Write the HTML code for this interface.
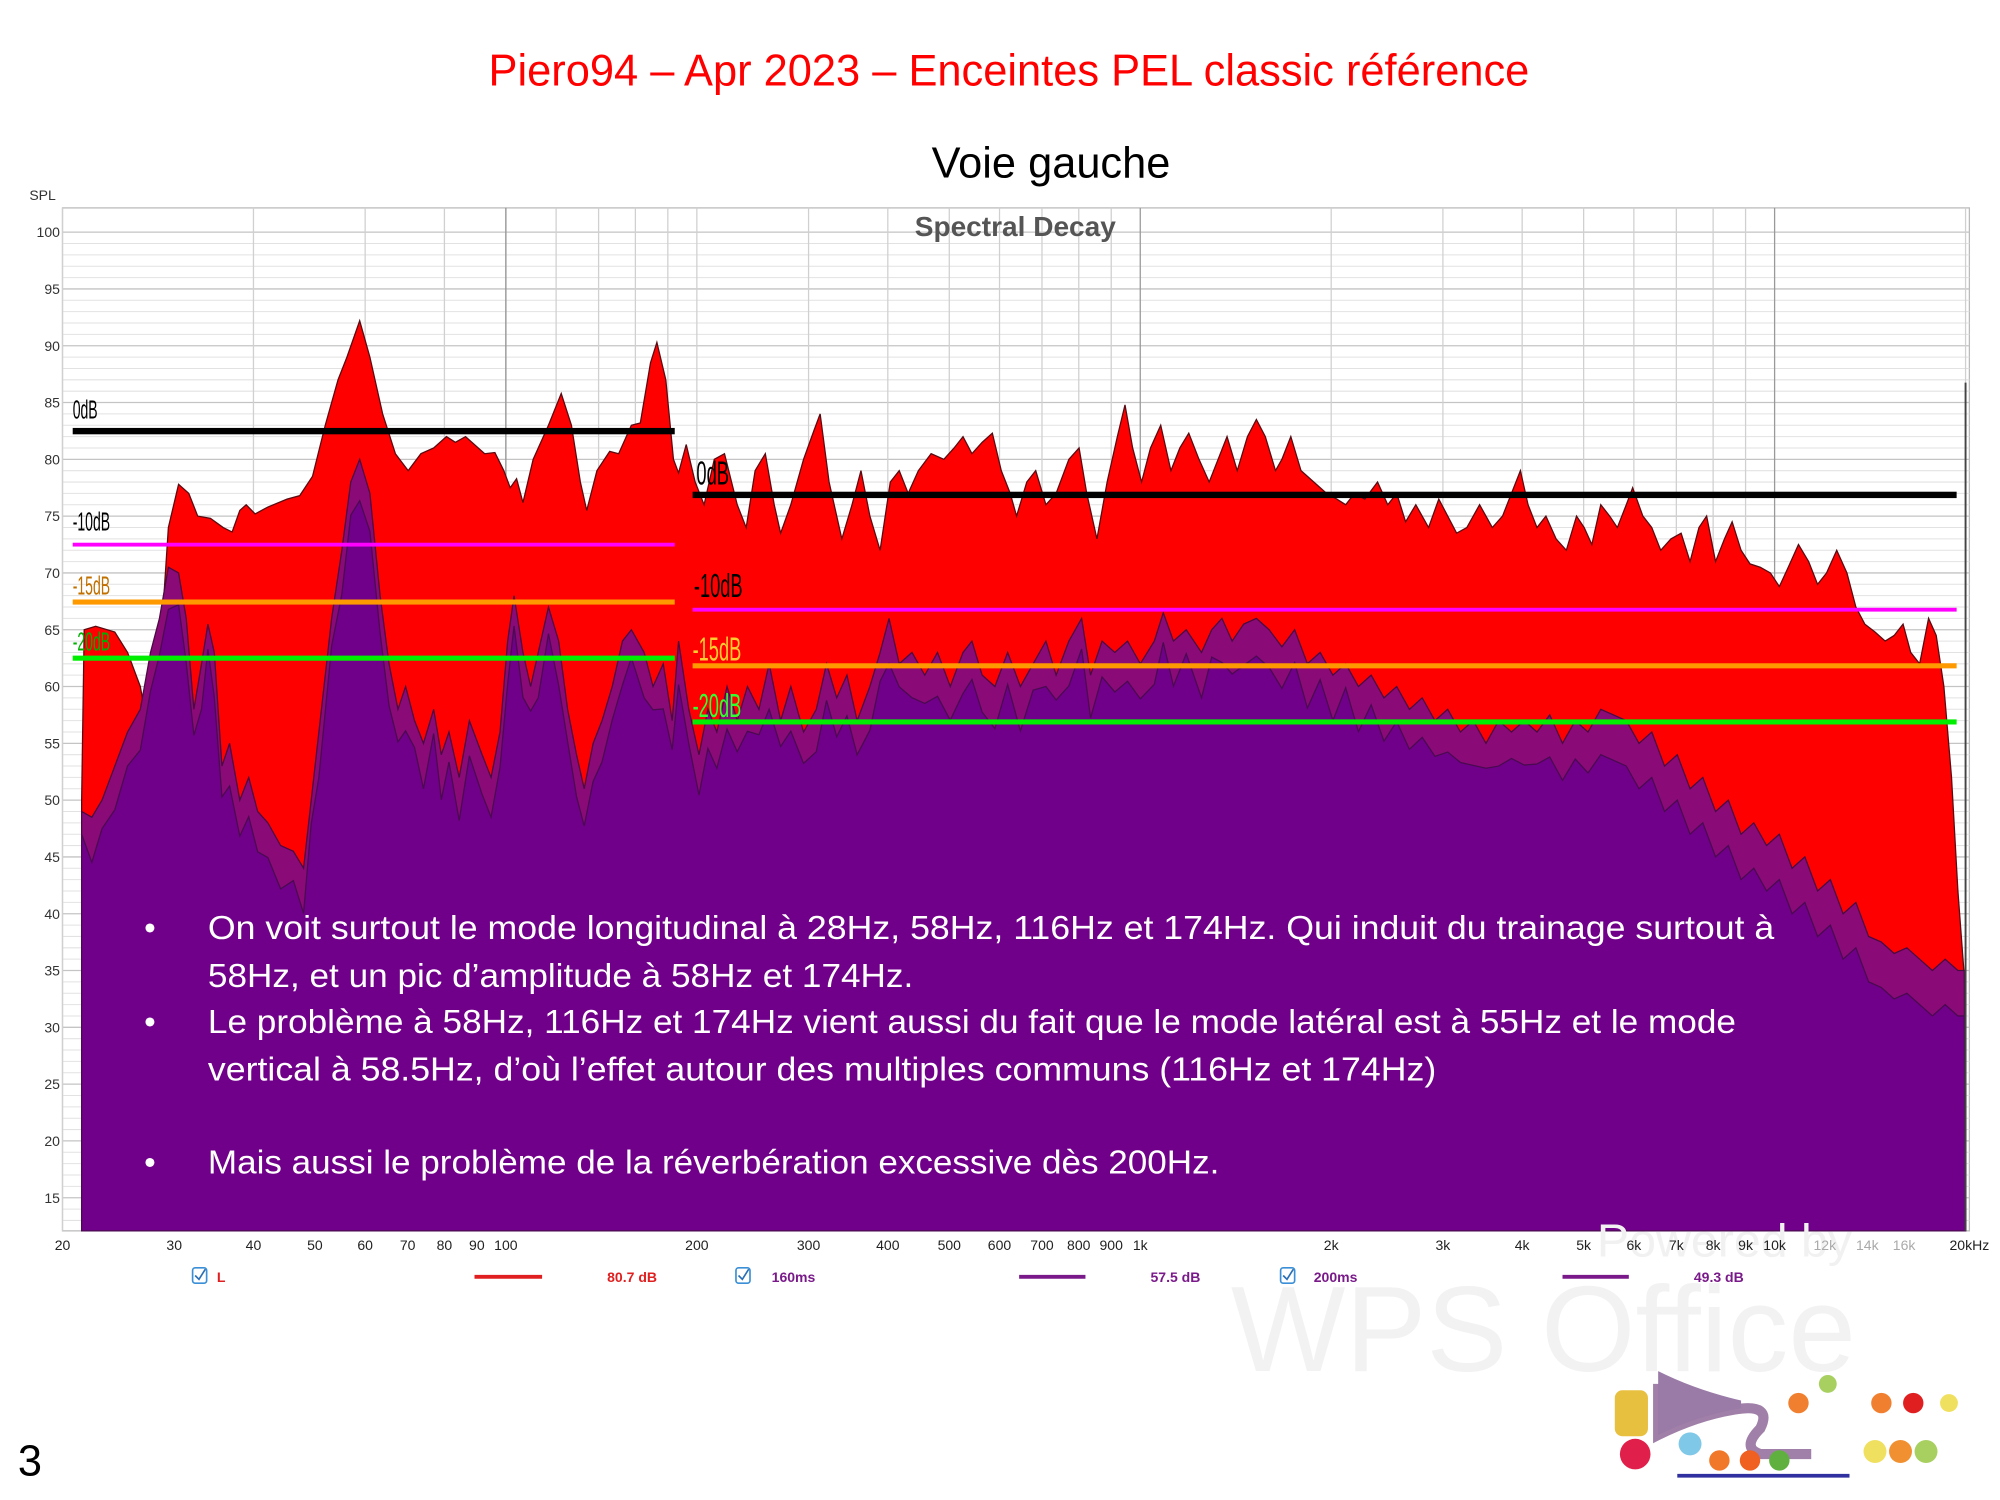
<!DOCTYPE html>
<html><head><meta charset="utf-8"><style>
html,body{margin:0;padding:0;background:#fff;width:2000px;height:1500px;overflow:hidden}
svg{display:block}
</style></head><body>
<svg id="s" width="2000" height="1500" viewBox="0 0 1568 1176" xmlns="http://www.w3.org/2000/svg" font-family="Liberation Sans, sans-serif">
<text x="383" y="67" font-size="35" fill="#ff0000" textLength="816" lengthAdjust="spacingAndGlyphs">Piero94 – Apr 2023 – Enceintes PEL classic référence</text>
<text x="824" y="139" text-anchor="middle" font-size="34" fill="#000">Voie gauche</text>
<text x="23" y="157" font-size="11" fill="#333">SPL</text>
<g id="grid"></g>
<text x="796" y="185" text-anchor="middle" font-size="22" font-weight="bold" fill="#555">Spectral Decay</text>
<g id="curves"></g>
<line x1="1541" y1="300" x2="1541" y2="965" stroke="#444" stroke-width="1.5"/>
<g id="marks"></g>
<g fill="#fff" font-size="26" font-family="Liberation Sans, sans-serif">
<text x="113" y="736">•</text>
<text x="163" y="736" textLength="1228" lengthAdjust="spacingAndGlyphs">On voit surtout le mode longitudinal à 28Hz, 58Hz, 116Hz et 174Hz. Qui induit du trainage surtout à</text>
<text x="163" y="774" textLength="553" lengthAdjust="spacingAndGlyphs">58Hz, et un pic d’amplitude à 58Hz et 174Hz.</text>
<text x="113" y="810">•</text>
<text x="163" y="810" textLength="1198" lengthAdjust="spacingAndGlyphs">Le problème à 58Hz, 116Hz et 174Hz vient aussi du fait que le mode latéral est à 55Hz et le mode</text>
<text x="163" y="847" textLength="963" lengthAdjust="spacingAndGlyphs">vertical à 58.5Hz, d’où l’effet autour des multiples communs (116Hz et 174Hz)</text>
<text x="113" y="920">•</text>
<text x="163" y="920" textLength="793" lengthAdjust="spacingAndGlyphs">Mais aussi le problème de la réverbération excessive dès 200Hz.</text>
</g>
<text x="1252" y="985" font-size="36" fill="#f1f1f1" textLength="200" lengthAdjust="spacingAndGlyphs">Powered by</text>
<text x="965" y="1075" font-size="95" fill="#f2f2f2" textLength="490" lengthAdjust="spacingAndGlyphs">WPS Office</text>
<g id="xl" font-size="11" fill="#222" text-anchor="middle"></g>
<g font-size="11" font-weight="bold">
<rect x="151" y="994" width="11" height="12" rx="2" fill="none" stroke="#3a8fd6" stroke-width="1.3"/><path d="M153 1000l3 3 5-8" stroke="#2a6fb6" fill="none" stroke-width="1.3"/>
<text x="170" y="1005" fill="#e02020">L</text>
<line x1="372" y1="1001" x2="425" y2="1001" stroke="#e02020" stroke-width="3"/>
<text x="476" y="1005" fill="#e02020">80.7 dB</text>
<rect x="577" y="994" width="11" height="12" rx="2" fill="none" stroke="#3a8fd6" stroke-width="1.3"/><path d="M579 1000l3 3 5-8" stroke="#2a6fb6" fill="none" stroke-width="1.3"/>
<text x="605" y="1005" fill="#7a1a8a">160ms</text>
<line x1="799" y1="1001" x2="851" y2="1001" stroke="#7a1a8a" stroke-width="3"/>
<text x="902" y="1005" fill="#7a1a8a">57.5 dB</text>
<rect x="1004" y="994" width="11" height="12" rx="2" fill="none" stroke="#3a8fd6" stroke-width="1.3"/><path d="M1006 1000l3 3 5-8" stroke="#2a6fb6" fill="none" stroke-width="1.3"/>
<text x="1030" y="1005" fill="#7a1a8a">200ms</text>
<line x1="1225" y1="1001" x2="1277" y2="1001" stroke="#7a1a8a" stroke-width="3"/>
<text x="1328" y="1005" fill="#7a1a8a">49.3 dB</text>
</g>
<text x="14" y="1157" font-size="34" fill="#000">3</text>
<g>
<path d="M1300 1085 L1300 1125 Q1330 1110 1360 1105 Q1390 1100 1380 1120 Q1365 1135 1380 1140 L1420 1140" stroke="#a080a8" stroke-width="8" fill="none"/>
<path d="M1300 1075 Q1330 1090 1365 1098 L1365 1104 Q1330 1110 1300 1125Z" fill="#9a7aa6"/>
<rect x="1266" y="1090" width="26" height="36" rx="6" fill="#e8c040"/>
<circle cx="1282" cy="1140" r="12" fill="#e0204a"/>
<circle cx="1325" cy="1132" r="9" fill="#80c8e8"/>
<circle cx="1348" cy="1145" r="8" fill="#f07828"/><circle cx="1372" cy="1145" r="8" fill="#f06020"/><circle cx="1395" cy="1145" r="8" fill="#60b040"/>
<circle cx="1410" cy="1100" r="8" fill="#f08030"/><circle cx="1433" cy="1085" r="7" fill="#a8d060"/>
<circle cx="1475" cy="1100" r="8" fill="#f08030"/><circle cx="1500" cy="1100" r="8" fill="#e02020"/><circle cx="1528" cy="1100" r="7" fill="#f0e060"/>
<circle cx="1470" cy="1138" r="9" fill="#f0e060"/><circle cx="1490" cy="1138" r="9" fill="#f09030"/><circle cx="1510" cy="1138" r="9" fill="#a8d060"/>
<line x1="1315" y1="1157" x2="1450" y2="1157" stroke="#3030a0" stroke-width="3"/>
</g>
</svg>
<script>
var NS="http://www.w3.org/2000/svg";
function el(p,t,a){var e=document.createElementNS(NS,t);for(var k in a)e.setAttribute(k,a[k]);p.appendChild(e);return e;}
function Y(db){return 182+(100-db)*8.906;}
function X(f){return 49+1492*Math.log10(f/20)/3;}
var g=document.getElementById('grid');
el(g,'rect',{x:49,y:163,width:1495,height:802,fill:'#fff',stroke:'#bbb','stroke-width':1});
for(var d=100;d>=9;d--){var y=Y(d);if(y>965)break;el(g,'line',{x1:49,x2:1544,y1:y,y2:y,stroke:d%5==0?'#c4c4c4':'#e2e2e2','stroke-width':d%5==0?1:0.8});
 if(d%5==0&&d>=15){var t=el(g,'text',{x:47,y:y+4,'font-size':11,'text-anchor':'end',fill:'#333'});t.textContent=d;}}
var fr=[];[20,100,1000,10000].forEach(function(b){for(var i=1;i<10;i++){var f=b*i;if(f>=20&&f<=20000)fr.push(f);}});
fr.forEach(function(f){var x=X(f);var dec=(f==100||f==1000||f==10000);el(g,'line',{x1:x,x2:x,y1:163,y2:965,stroke:dec?'#999':'#d0d0d0','stroke-width':1});});
var xl=document.getElementById('xl');
[[20,'20'],[30,'30'],[40,'40'],[50,'50'],[60,'60'],[70,'70'],[80,'80'],[90,'90'],[100,'100'],[200,'200'],[300,'300'],[400,'400'],[500,'500'],[600,'600'],[700,'700'],[800,'800'],[900,'900'],[1000,'1k'],[2000,'2k'],[3000,'3k'],[4000,'4k'],[5000,'5k'],[6000,'6k'],[7000,'7k'],[8000,'8k'],[9000,'9k'],[10000,'10k'],[12000,'12k'],[14000,'14k'],[16000,'16k'],[20000,'20kHz']].forEach(function(a){var t=el(xl,'text',{x:X(a[0])+(a[0]==20000?3:0),y:980,fill:(a[0]>=12000&&a[0]<20000)?'#aaa':'#222'});t.textContent=a[1];});
var red=[[64,50],[66,65],[75,65.3],[90,64.8],[100,63],[110,60],[118,55],[125,62],[132,74],[140,77.8],[148,77],[155,75],[165,74.8],[175,74],[182,73.6],[188,75.5],[193,76],[200,75.2],[210,75.8],[225,76.5],[235,76.8],[245,78.5],[255,83],[265,87],[272,89],[282,92.2],[290,89],[300,84],[310,80.5],[320,79],[330,80.5],[340,81],[350,82],[357,81.5],[365,82],[380,80.5],[388,80.6],[395,79],[400,77.5],[405,78.3],[410,76.2],[418,80],[430,83],[440,85.8],[448,83],[455,78],[460,75.5],[468,79],[478,80.7],[485,80.5],[495,83],[502,83.2],[510,88.5],[515,90.3],[522,87],[528,80],[532,78.8],[538,81.3],[545,78],[552,76],[560,80],[568,80.5],[578,76],[585,74],[592,79],[600,80.5],[607,76],[612,73.5],[620,76],[630,80],[638,82.5],[643,84],[650,78],[660,73],[668,76],[675,79],[682,75],[690,72],[698,78],[705,79],[712,77],[720,79],[730,80.5],[740,80],[748,81],[755,82],[762,80.5],[770,81.5],[778,82.3],[785,79],[792,77],[797,75],[805,78],[812,79],[820,76],[828,77],[838,80],[846,81],[852,77],[860,73],[868,78],[876,82],[882,84.8],[888,81],[895,78],[902,81],[910,83],[918,79],[925,81],[932,82.3],[940,80],[948,78],[955,80],[962,82],[970,79],[978,82],[985,83.5],[992,82],[1000,79],[1005,80],[1012,82],[1020,79],[1030,78],[1040,77],[1048,76.5],[1055,76],[1062,77],[1070,76.5],[1080,78],[1088,76],[1095,77],[1102,74.5],[1110,76],[1120,74],[1128,76.5],[1135,75],[1142,73.5],[1150,74],[1160,76],[1170,74],[1178,75],[1185,77],[1192,79],[1198,76],[1205,74],[1212,75],[1220,73],[1228,72],[1236,75],[1242,74],[1248,72.5],[1255,76],[1262,75],[1268,74],[1275,76],[1280,77.5],[1288,75],[1295,74],[1302,72],[1310,73],[1318,73.5],[1325,71],[1332,74],[1338,75],[1345,71],[1352,73],[1358,74.5],[1365,72],[1372,70.8],[1380,70.5],[1388,70],[1395,68.8],[1402,70.5],[1410,72.5],[1418,71],[1425,69],[1432,70],[1440,72],[1448,70],[1455,67],[1462,65.5],[1470,64.8],[1478,64],[1485,64.5],[1492,65.5],[1498,63],[1505,62],[1512,66],[1518,64.5],[1524,60],[1530,52],[1535,42],[1540,34.5]];
var mid=[[64,49],[72,48.5],[80,50],[90,53],[100,56],[110,58],[118,63],[125,66],[132,70.5],[140,70],[146,66],[152,58],[158,62],[163,65.5],[168,63],[174,53],[180,55],[188,50],[195,52],[202,49],[210,48],[220,46],[230,45.5],[238,44],[244,50],[250,56],[260,66],[268,72],[275,78],[282,80],[290,77],[298,68],[305,62],[312,58],[318,60],[325,57],[332,55],[340,58],[346,54],[352,56],[360,52],[368,57],[378,54],[385,52],[392,56],[398,64],[403,68],[410,63],[416,60],[422,63],[430,67],[438,64],[445,58],[452,54],[458,51],[465,55],[472,57],[480,60],[488,64],[495,65],[505,63],[512,60],[520,62],[527,57],[532,64],[540,58],[548,54],[555,58],[562,56],[570,60],[578,57],[586,60],[595,58],[603,62],[612,57],[620,60],[630,56],[640,58],[648,62],[656,59],[664,61],[672,57],[682,60],[690,63],[697,66],[705,62],[715,63],[725,61],[735,63],[745,60],[755,63],[762,64],[770,61],[780,60],[790,63],[800,60],[810,62],[820,64],[828,61],[838,64],[848,66],[855,61],[864,64],[874,63],[884,64],[894,62],[905,64],[912,66.5],[920,64],[930,65],[942,63],[950,65],[958,66],[966,64],[975,65.5],[985,66],[995,65],[1005,63.5],[1015,65],[1025,62],[1035,63],[1045,61],[1055,62],[1065,60],[1075,61],[1085,59],[1095,60],[1105,58],[1115,59],[1125,57],[1135,58],[1145,56],[1155,57],[1165,55],[1175,57],[1185,56],[1195,57],[1205,56],[1215,57.5],[1225,55],[1235,57],[1245,56],[1255,58],[1265,57.5],[1275,57],[1285,55],[1295,56],[1305,53],[1315,54],[1325,51],[1335,52],[1345,49],[1355,50],[1365,47],[1375,48],[1385,46],[1395,47],[1405,44],[1415,45],[1425,42],[1435,43],[1445,40],[1455,41],[1465,38],[1475,37.5],[1485,36.5],[1495,37],[1505,36],[1515,35],[1525,36],[1535,35],[1540,35]];
var inn=mid.map(function(p,i){var o=p[0]>1250?4:(2+2*Math.abs(Math.sin(i*1.7)));return [p[0],p[1]-o];});
function path(a){var s='M64 965';a.forEach(function(p){s+=' L'+p[0]+' '+Y(p[1]).toFixed(1);});return s+' L1541 965 Z';}
var c=document.getElementById('curves');
el(c,'path',{d:path(red),fill:'#ff0000',stroke:'#5a0a10','stroke-width':1});
el(c,'path',{d:path(mid),fill:'#8a0a78',stroke:'#4a0a40','stroke-width':1});
el(c,'path',{d:path(inn),fill:'#700089',stroke:'#4a0a50','stroke-width':1});
var m=document.getElementById('marks');
[[57,529,338,5,'#000'],[57,529,427,3,'#ff00ff'],[57,529,472,4,'#ff9900'],[57,529,516,4,'#00ee00'],
 [543,1534,388,5,'#000'],[543,1534,478,3,'#ff00ff'],[543,1534,522,4,'#ff9900'],[543,1534,566,4,'#00ee00']].forEach(function(a){
 el(m,'rect',{x:a[0],y:a[2]-a[3]/2,width:a[1]-a[0],height:a[3],fill:a[4]});});
[[57,328,'0dB','#000',20],[57,416,'-10dB','#000',20],[57,466,'-15dB','#c07000',20],[57,510,'-20dB','#00b000',20],
 [546,380,'0dB','#000',26],[544,468,'-10dB','#000',26],[543,518,'-15dB','#ffcc30',26],[543,562,'-20dB','#30ff30',26]].forEach(function(a){
 var t=el(m,'text',{x:0,y:0,'font-size':a[4],fill:a[3],transform:'translate('+a[0]+','+a[1]+') scale(0.55,1)'});t.textContent=a[2];});
</script>
</body></html>
